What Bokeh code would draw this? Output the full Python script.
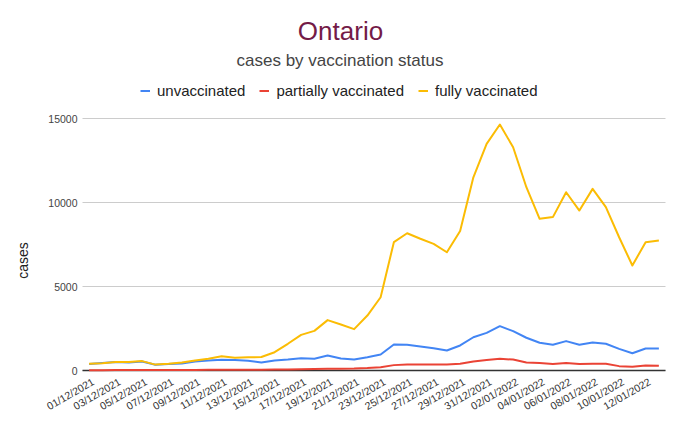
import math
from bokeh.plotting import figure
from bokeh.models import Range1d, Label, Legend, LegendItem
from bokeh.core.properties import value
from bokeh.embed import file_html
from bokeh.resources import INLINE

dates = [
    "01/12/2021", "02/12/2021", "03/12/2021", "04/12/2021", "05/12/2021", "06/12/2021",
    "07/12/2021", "08/12/2021", "09/12/2021", "10/12/2021", "11/12/2021", "12/12/2021",
    "13/12/2021", "14/12/2021", "15/12/2021", "16/12/2021", "17/12/2021", "18/12/2021",
    "19/12/2021", "20/12/2021", "21/12/2021", "22/12/2021", "23/12/2021", "24/12/2021",
    "25/12/2021", "26/12/2021", "27/12/2021", "28/12/2021", "29/12/2021", "30/12/2021",
    "31/12/2021", "01/01/2022", "02/01/2022", "03/01/2022", "04/01/2022", "05/01/2022",
    "06/01/2022", "07/01/2022", "08/01/2022", "09/01/2022", "10/01/2022", "11/01/2022",
    "12/01/2022", "13/01/2022",
]

unvaccinated = [380, 440, 500, 480, 530, 340, 380, 420, 530, 600, 640, 620,
                580, 480, 600, 650, 730, 700, 890, 710, 650, 790, 950, 1550,
                1530, 1430, 1330, 1190, 1490, 1980, 2240, 2640, 2340, 1950, 1650, 1530,
                1750, 1530, 1670, 1590, 1290, 1030, 1310, 1310]

partially = [20, 20, 25, 25, 30, 30, 30, 35, 35, 40, 40, 45,
             45, 50, 55, 60, 75, 90, 110, 110, 120, 150, 200, 320,
             360, 360, 360, 360, 400, 540, 620, 700, 650, 480, 440, 380,
             440, 380, 400, 400, 260, 220, 300, 280]

fully = [400, 430, 500, 500, 560, 350, 400, 470, 600, 700, 850, 760,
         790, 800, 1090, 1590, 2120, 2360, 3000, 2740, 2460, 3270, 4360, 7640,
         8170, 7840, 7540, 7040, 8300, 11500, 13490, 14640, 13290, 10910, 9030, 9130,
         10610, 9520, 10810, 9720, 7930, 6250, 7640, 7740]

series_names = ["unvaccinated", "partially vaccinated", "fully vaccinated"]
series_colors = ["#4285F4", "#EA4335", "#FBBC04"]
y_ticks = [0, 5000, 10000, 15000]
y_tick_labels = ["0", "5000", "10000", "15000"]
title_text = "Ontario"
subtitle_text = "cases by vaccination status"
y_label = "cases"

FONT = "Liberation Sans"
W, H = 680, 422
# plotting-area placement inside the canvas (pixels)
LEFT, RIGHT, BOTTOM = 82, 15, 52
n = len(dates)
SLOT = (W - LEFT - RIGHT) / n          # px per category
PX = 5000 / 84.0                        # cases per px

x = list(range(n))
x_lo, x_hi = -0.5, n - 0.5
tick_x = x[::2]
tick_labels = [dates[i] for i in tick_x]

p = figure(width=W, height=H, output_backend="svg", toolbar_location=None,
           title=None, x_axis_type=None, y_axis_type=None,
           x_range=Range1d(x_lo - LEFT / SLOT, x_hi + RIGHT / SLOT),
           y_range=Range1d(-BOTTOM * PX, (H - BOTTOM) * PX),
           min_border_left=0, min_border_right=0, min_border_top=0,
           min_border_bottom=0)
p.outline_line_color = None
p.xgrid.grid_line_color = None
p.ygrid.grid_line_color = None

# horizontal gridlines and dark zero baseline
p.segment(x0=[x_lo] * len(y_ticks), x1=[x_hi] * len(y_ticks), y0=y_ticks, y1=y_ticks,
          line_color="#cccccc", line_width=1)
p.segment(x0=[x_lo], x1=[x_hi], y0=[0], y1=[0], line_color="#333333", line_width=1.3)

renderers = []
for vals, col in zip([unvaccinated, partially, fully], series_colors):
    renderers.append(p.line(x, vals, line_color=col, line_width=2, line_join="round"))

# y tick labels
p.text(x=[x_lo] * len(y_ticks), y=y_ticks, text=y_tick_labels,
       text_align="right", text_baseline="middle", x_offset=-5,
       text_font=value(FONT), text_font_size="10.5px", text_color="#444444")

# slanted date labels under the zero line
p.text(x=tick_x, y=[0] * len(tick_x), text=tick_labels, angle=math.pi / 6,
       text_align="right", text_baseline="middle", x_offset=4, y_offset=10,
       text_font=value(FONT), text_font_size="10.5px", text_color="#333333")

# y axis title
p.add_layout(Label(x=22, y=162, x_units="screen", y_units="screen", text=y_label,
                   angle=math.pi / 2, text_align="center", text_baseline="middle",
                   text_font=FONT, text_font_size="14px", text_color="#222222"))

# titles
p.add_layout(Label(x=340, y=392, x_units="screen", y_units="screen", text=title_text,
                   text_align="center", text_baseline="alphabetic",
                   text_font=FONT, text_font_size="26px", text_color="#741b47"))
p.add_layout(Label(x=339.5, y=362, x_units="screen", y_units="screen",
                   text=subtitle_text, text_align="center",
                   text_baseline="alphabetic", text_font=FONT,
                   text_font_size="17px", text_color="#444444"))

legend = Legend(items=[LegendItem(label=nm, renderers=[r])
                       for nm, r in zip(series_names, renderers)],
                orientation="horizontal", location=(140, 323),
                glyph_width=10, glyph_height=15, label_height=15,
                label_standoff=7, spacing=14, padding=0, margin=0,
                background_fill_alpha=0, border_line_alpha=0,
                label_text_font=FONT, label_text_font_size="15px",
                label_text_color="#222222")
p.add_layout(legend)

open("out.html", "w").write(file_html(p, INLINE))
